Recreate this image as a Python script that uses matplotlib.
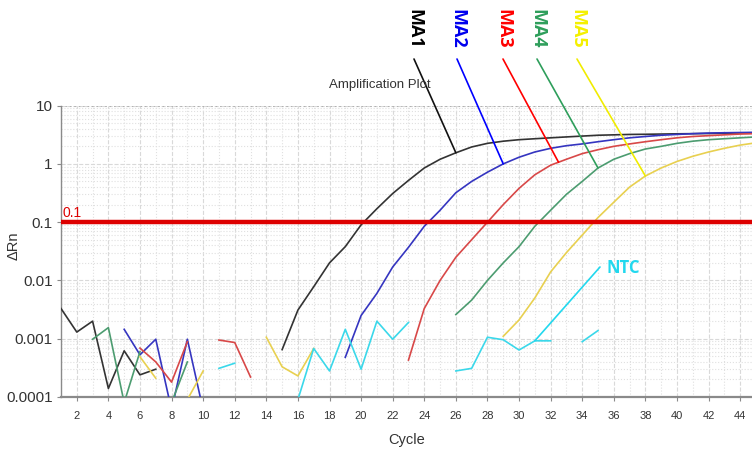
import numpy as np
import matplotlib
matplotlib.use("Agg")
import matplotlib.pyplot as plt
from matplotlib.ticker import MultipleLocator, LogLocator, FixedLocator, NullFormatter

nan = np.nan

# ciclos 1..45
cycles = np.arange(1, 46)

ma1 = [0.0033, 0.0013, 0.002, 0.00014, 0.00062, 0.00024, 0.0003, nan, nan, nan,
       nan, nan, nan, nan, 0.00065, 0.0031, 0.0078, 0.02, 0.038, 0.09,
       0.17, 0.31, 0.52, 0.85, 1.2, 1.55, 1.95, 2.25, 2.45, 2.6,
       2.7, 2.8, 2.9, 3.0, 3.1, 3.15, 3.2, 3.22, 3.25, 3.28,
       3.3, 3.32, 3.35, 3.4, 3.42]
ma2 = [nan, nan, nan, nan, 0.00145, 0.00053, 0.00098, 0.00006, 0.00098, 0.00006,
       nan, nan, nan, nan, nan, nan, nan, nan, 0.00048, 0.0025,
       0.006, 0.017, 0.037, 0.085, 0.16, 0.32, 0.5, 0.72, 1.0, 1.3,
       1.6, 1.85, 2.05, 2.2, 2.4, 2.6, 2.8, 2.95, 3.1, 3.2,
       3.3, 3.38, 3.42, 3.45, 3.48]
ma3 = [nan, nan, nan, nan, nan, 0.00069, 0.0004, 0.00018, 0.00089, nan,
       0.00095, 0.00086, 0.00022, nan, nan, nan, nan, nan, nan, nan,
       nan, nan, 0.00043, 0.0033, 0.01, 0.025, 0.05, 0.1, 0.2, 0.38,
       0.65, 0.95, 1.2, 1.5, 1.75, 2.0, 2.2, 2.4, 2.6, 2.8,
       2.95, 3.05, 3.15, 3.25, 3.3]
ma4 = [nan, nan, 0.00098, 0.00155, 0.00008, 0.0006, nan, 0.00008, 0.0004, nan,
       nan, nan, nan, nan, nan, nan, nan, nan, nan, nan,
       nan, nan, nan, nan, nan, 0.0026, 0.0046, 0.01, 0.02, 0.038,
       0.085, 0.16, 0.3, 0.5, 0.85, 1.2, 1.5, 1.8, 2.0, 2.25,
       2.45, 2.6, 2.7, 2.8, 2.9]
ma5 = [nan, nan, nan, nan, nan, 0.00049, 0.00021, nan, 0.00009, 0.00028,
       nan, nan, nan, 0.00106, 0.00033, 0.00023, 0.00068, nan, nan, nan,
       nan, nan, nan, nan, nan, nan, nan, nan, 0.0011, 0.0021,
       0.005, 0.014, 0.03, 0.06, 0.12, 0.22, 0.4, 0.62, 0.85, 1.1,
       1.35, 1.6, 1.85, 2.1, 2.3]
ntc = [nan, nan, nan, nan, nan, nan, nan, nan, nan, nan,
       0.00031, 0.00038, nan, nan, nan, 0.00009, 0.00068, 0.00028, 0.00145, 0.0003,
       0.002, 0.00098, 0.0019, nan, nan, 0.00028, 0.00031, 0.00106, 0.00096, 0.00064,
       0.00092, 0.00092, nan, 0.00089, 0.00138, nan, nan, nan, nan, nan,
       nan, nan, nan, nan, nan]

threshold = 0.1
y_ticks = [0.0001, 0.001, 0.01, 0.1, 1, 10]
y_labels = ['0.0001', '0.001', '0.01', '0.1', '1', '10']

narrow = ['Liberation Sans Narrow', 'Liberation Sans', 'DejaVu Sans']
bold_font = ['Open Sans', 'DejaVu Sans']

fig = plt.figure(figsize=(7.52, 4.51), dpi=100)
ax = fig.add_axes([61/752, 54/451, 691/752, 291.4/451])

series = [
    (ma1, '#333333'),
    (ma2, '#3535c0'),
    (ma3, '#d84848'),
    (ma4, '#4c9c70'),
    (ma5, '#e8d050'),
    (ntc, '#3ad8ea'),
]
for vals, col in series:
    ax.plot(cycles, vals, color=col, linewidth=1.2, zorder=3)

ax.axhline(threshold, color='#dd0000', linewidth=3.2, zorder=4)
ax.text(1.1, threshold * 1.1, '0.1', color='#dd0000', fontsize=10,
        family=narrow, va='bottom', ha='left', zorder=5)

ax.set_yscale('log')
ax.set_ylim(0.0001, 10)
ax.set_xlim(1, 44.75)

ax.xaxis.set_major_locator(MultipleLocator(2))
ax.xaxis.set_minor_locator(MultipleLocator(1))
ax.yaxis.set_major_locator(FixedLocator(y_ticks))
ax.set_yticklabels(y_labels)
ax.yaxis.set_minor_locator(LogLocator(base=10, subs=np.arange(2, 10)))
ax.yaxis.set_minor_formatter(NullFormatter())

ax.grid(which='major', color='#d9d9d9', linestyle='--', linewidth=0.8)
ax.grid(which='minor', color='#e0e0e0', linestyle=':', linewidth=0.8)
ax.set_axisbelow(True)

for s in ['top', 'right']:
    ax.spines[s].set_visible(False)
ax.spines['bottom'].set_color('#8a8a8a')
ax.spines['bottom'].set_linewidth(1.6)
ax.spines['left'].set_color('#8a8a8a')
ax.spines['left'].set_linewidth(1.0)
ax.axhline(10, color='#aaaaaa', linestyle=':', linewidth=1.2, zorder=2)

ax.tick_params(axis='both', which='both', colors='#8a8a8a', labelcolor='#333333')
ax.tick_params(axis='x', which='major', length=3, labelsize=8, pad=7)
ax.tick_params(axis='y', which='major', length=3, labelsize=11, pad=3)
ax.tick_params(which='minor', length=0)
for lab in ax.get_xticklabels() + ax.get_yticklabels():
    lab.set_family(narrow)

ax.set_xlabel('Cycle', fontsize=10.5, color='#333333', family=narrow, labelpad=9)
ax.set_ylabel('ΔRn', fontsize=10.5, color='#333333', family=narrow)
ax.yaxis.set_label_coords((21 - 61) / 691, 0.52)

fig.text(380, 451 - 85, 'Amplification Plot', transform=None, fontsize=9.5,
         family=narrow, color='#333333', ha='center', va='center')

# etiquetas con lineas guia
labels = [
    ('MA1', '#000000', '#111111', ma1, 26, 414),
    ('MA2', '#0000ee', '#0000ff', ma2, 29, 457),
    ('MA3', '#ff0000', '#ff0000', ma3, 32.5, 503),
    ('MA4', '#2e9e5b', '#2e9e5b', ma4, 35, 537),
    ('MA5', '#f4f000', '#f0ec00', ma5, 38, 577),
]
for name, tcol, lcol, vals, cyc, px in labels:
    v = np.array(vals, dtype=float)
    ok = ~np.isnan(v)
    yv = 10 ** np.interp(cyc, cycles[ok], np.log10(v[ok]))
    ax.annotate('', xy=(cyc, yv), xycoords='data',
                xytext=(px, 451 - 59), textcoords='figure pixels',
                arrowprops=dict(arrowstyle='-', color=lcol, lw=1.2,
                                shrinkA=0, shrinkB=0),
                annotation_clip=False, zorder=6)
    fig.text(px, 451 - 29, name, transform=None, rotation=-90, fontsize=13,
             fontweight='bold', color=tcol, family=bold_font,
             ha='center', va='center')

ntc_c = 31
ax.annotate('', xy=(ntc_c, ntc[ntc_c - 1]), xycoords='data',
            xytext=(600, 451 - 267), textcoords='figure pixels',
            arrowprops=dict(arrowstyle='-', color='#22d8ee', lw=1.2,
                            shrinkA=0, shrinkB=0),
            annotation_clip=False, zorder=6)
fig.text(607, 451 - 268, 'NTC', transform=None, fontsize=12, fontweight='bold',
         color='#22d8ee', family=bold_font, ha='left', va='center')

fig.savefig('out.png', dpi=100)
